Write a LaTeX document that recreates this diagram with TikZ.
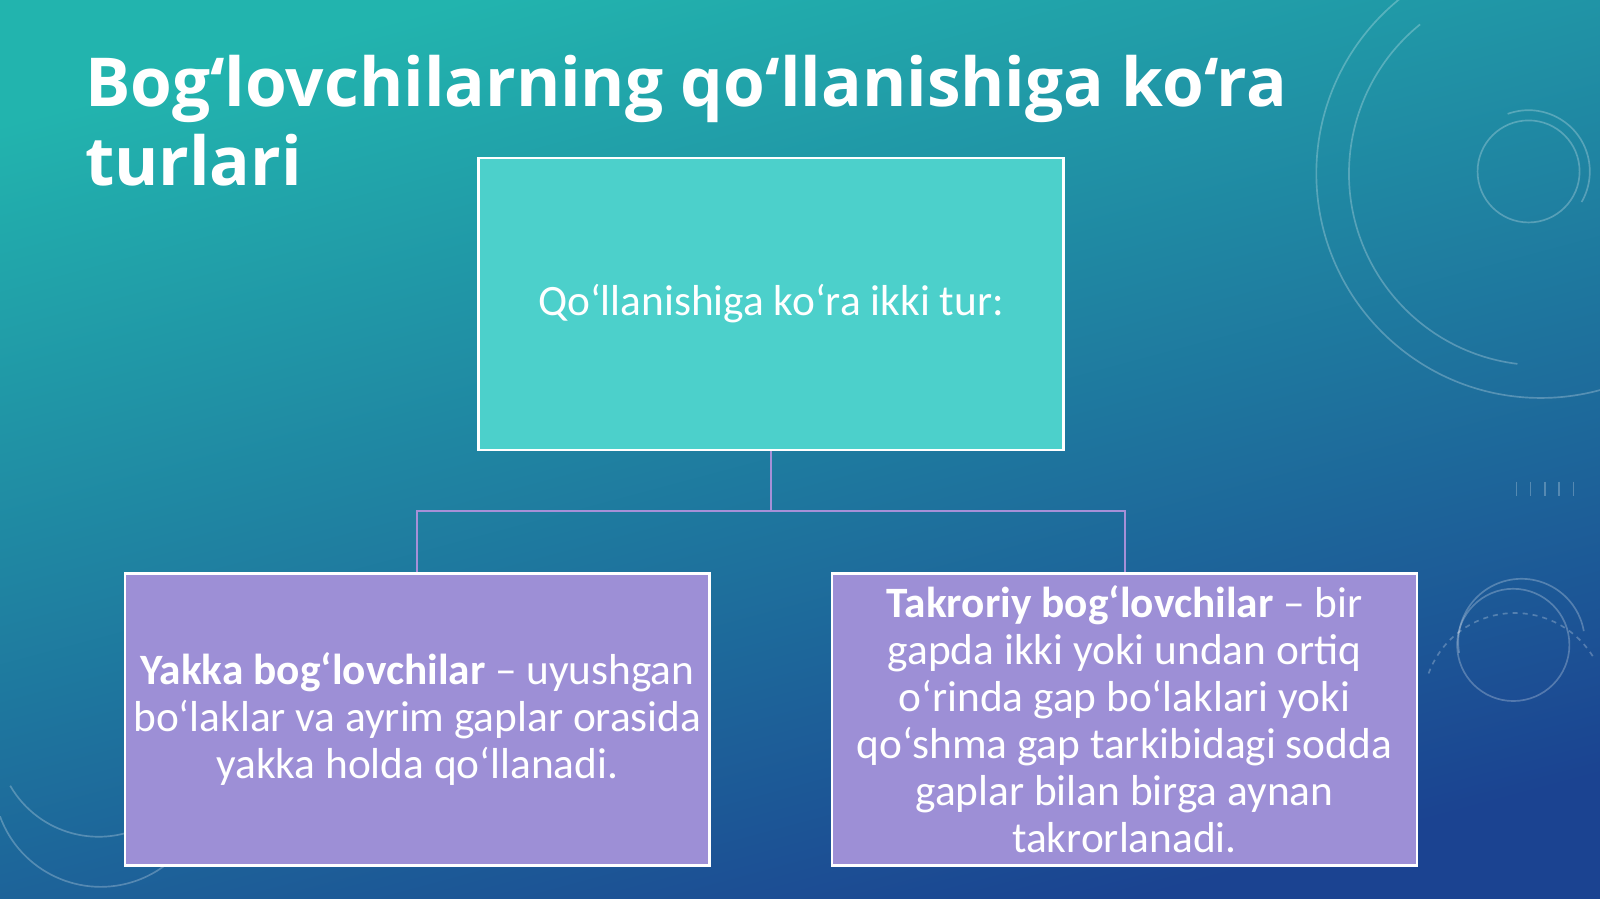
\documentclass[tikz,border=0pt]{standalone}
\usepackage{fontspec}
\setmainfont{Carlito}
\newfontfamily\titlefont{Open Sans}
\usetikzlibrary{positioning}
\definecolor{bgtop}{HTML}{22B4AE}
\definecolor{bgmid}{HTML}{1A80A6}
\definecolor{bgbot}{HTML}{1B4391}
\definecolor{topfill}{HTML}{4CD0CB}
\definecolor{subfill}{HTML}{9D8FD6}
\definecolor{linkc}{HTML}{A690D8}
\tikzset{
  box/.style={draw=white,line width=1.5pt,minimum width=350.8pt,minimum height=175.1pt,
    text width=348pt,align=flush center,text=white,inner sep=0pt,
    font=\fontsize{26}{28.2}\selectfont},
  link/.style={draw=linkc,line width=1.2pt},
  ring/.style={draw=white,opacity=0.25,line width=1pt}
}
\begin{document}
\begin{tikzpicture}[x=0.6122pt,y=-0.6122pt]
  \useasboundingbox (0,0) rectangle (1568,881);
  \shade[top color=bgtop,middle color=bgmid,bottom color=bgbot,shading angle=15] (0,0) rectangle (1568,881);
  \draw[ring] (1510,170) circle (220);
  \draw[ring] (1510,170) ++(97:188) arc (97:231:188);
  \draw[ring] (1498,168) circle (50);
  \draw[ring] (1498,168) ++(-110:60) arc (-110:30:60);
  \draw[ring] (1483,632) circle (55);
  \draw[ring] (1430,640) arc (170:350:62);
  \draw[ring,dashed] (1400,660) arc (200:330:90);
  \draw[ring] (0,800) arc (160:10:105);
  \draw[ring] (10,770) arc (150:0:100);
  \foreach \i in {0,...,4} \draw[ring] (1486+14*\i,472) -- ++(0,14);
  \node[anchor=base west,align=left,text=white,font=\titlefont\bfseries\fontsize{40.5}{47.4}\selectfont,inner sep=0pt]
    (title) at (83,182) {Bog‘lovchilarning qo‘llanishiga ko‘ra\\turlari};
  \node[box,fill=topfill] (kind) at (755.5,298) {Qo‘llanishiga ko‘ra ikki tur:};
  \node[box,fill=subfill] (single) at (409,705) {\textbf{Yakka bog‘lovchilar} – uyushgan\\bo‘laklar va ayrim gaplar orasida\\yakka holda qo‘llanadi.};
  \node[box,fill=subfill] (repeat) at (1102,705) {\textbf{Takroriy bog‘lovchilar} – bir\\gapda ikki yoki undan ortiq\\o‘rinda gap bo‘laklari yoki\\qo‘shma gap tarkibidagi sodda\\gaplar bilan birga aynan\\takrorlanadi.};
  \coordinate (bus) at (755.5,501);
  \draw[link] (kind.south) -- (bus);
  \draw[link] (single.north) |- (bus) -| (repeat.north);
\end{tikzpicture}
\end{document}
